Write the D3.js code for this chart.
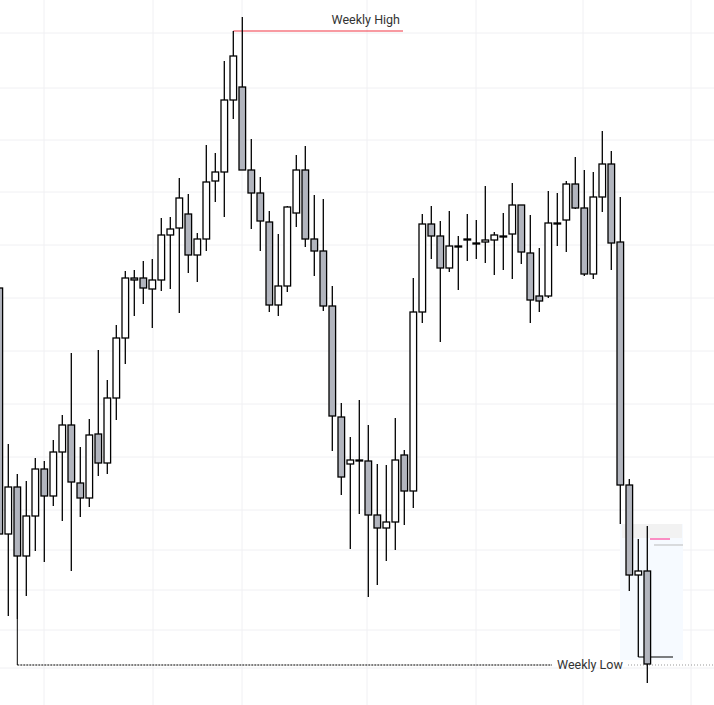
<!DOCTYPE html>
<html><head><meta charset="utf-8">
<script src="https://cdn.jsdelivr.net/npm/d3@7"></script>
<style>body{margin:0;background:#fff}svg{display:block}</style>
</head><body><div id="c"></div>
<script>
// price units (higher = up)
const open  = [412,166,213,144,184,231,204,248,275,217,202,266,237,302,362,422,422,411,420,465,472,486,445,461,519,528,600,613,530,507,478,395,414,487,530,461,449,394,283,236,240,239,185,172,178,245,209,388,476,464,432,454,461,457,458,460,464,466,495,447,404,404,476,480,516,492,426,503,536,458,215,125,129];
const high  = [412,256,226,219,242,239,260,285,347,253,281,350,320,375,429,430,439,441,482,483,522,506,467,555,547,639,669,683,561,523,489,466,494,545,554,505,501,414,297,263,300,275,236,235,282,250,422,486,494,479,489,464,486,480,514,468,487,517,493,485,452,509,507,519,543,530,528,569,549,503,221,161,174];
const low   = [166,84,81,104,149,138,194,179,129,183,193,224,226,280,336,384,396,372,409,411,387,427,418,449,498,483,581,530,471,449,388,384,408,473,453,424,389,249,205,151,186,103,115,139,150,175,192,377,441,358,428,410,439,441,437,425,430,421,436,377,388,402,454,448,491,424,421,488,430,176,109,43,17];
const close = [166,213,144,184,231,204,248,275,218,202,265,237,302,362,422,420,412,420,465,471,502,445,461,518,528,600,644,530,507,479,395,414,493,530,461,449,394,284,223,240,240,185,172,178,240,209,388,476,464,432,454,454,461,457,460,465,464,495,448,400,399,477,477,516,492,426,503,536,457,215,125,129,36];
const gridX = [44,153,242,367,476,583,691];
const gridPrice = [667,612,560,508,455,402,349,296,243,190,150,110,70,32];
const weeklyHigh = 669, weeklyLow = 35;

const W=714,H=705;
const svg=d3.select("#c").append("svg").attr("width",W).attr("height",H);
const x=d3.scaleLinear().domain([0,72]).range([-0.7,647.3]);
const y=d3.scaleLinear().domain([0,700]).range([700,0]);

svg.append("g").selectAll("line").data(gridX).join("line")
 .attr("x1",d=>d).attr("x2",d=>d).attr("y1",0).attr("y2",H).attr("stroke","#f0f0f3");
svg.append("g").selectAll("line").data(gridPrice).join("line")
 .attr("x1",0).attr("x2",W).attr("y1",d=>y(d)).attr("y2",d=>y(d)).attr("stroke","#f0f0f3");

svg.append("rect").attr("x",620).attr("y",524).attr("width",63).attr("height",136).attr("fill","#f6faff");
svg.append("rect").attr("x",622).attr("y",524).attr("width",60).attr("height",14).attr("fill","#f2f2f2");
svg.append("line").attr("x1",654).attr("x2",683).attr("y1",545).attr("y2",545).attr("stroke","#bbb");
svg.append("line").attr("x1",650).attr("x2",670).attr("y1",539).attr("y2",539).attr("stroke","#f28");

svg.append("line").attr("x1",x(26)).attr("x2",403).attr("y1",y(weeklyHigh)).attr("y2",y(weeklyHigh)).attr("stroke","#f23645").attr("stroke-width",1.2);
svg.append("text").attr("x",400).attr("y",y(weeklyHigh)-7).attr("text-anchor","end").attr("font-family","Roboto, sans-serif").attr("font-size",12.5).attr("fill","#333").text("Weekly High");
svg.append("line").attr("x1",x(2)).attr("x2",x(2)).attr("y1",y(low[2])).attr("y2",y(weeklyLow)).attr("stroke","#000");
svg.append("line").attr("x1",x(2)).attr("x2",552).attr("y1",y(weeklyLow)).attr("y2",y(weeklyLow)).attr("stroke","#000").attr("stroke-dasharray","2,1");
svg.append("line").attr("x1",628).attr("x2",W).attr("y1",y(weeklyLow)).attr("y2",y(weeklyLow)).attr("stroke","#999").attr("stroke-dasharray","1,2");
svg.append("text").attr("x",557).attr("y",y(weeklyLow)+4).attr("font-family","Roboto, sans-serif").attr("font-size",12.5).attr("fill","#333").text("Weekly Low");
svg.append("line").attr("x1",x(71)).attr("x2",673).attr("y1",y(43)).attr("y2",y(43)).attr("stroke","#000");

const idx=d3.range(open.length);
const g=svg.append("g");
g.selectAll("line").data(idx).join("line")
 .attr("x1",i=>x(i)).attr("x2",i=>x(i)).attr("y1",i=>y(high[i])).attr("y2",i=>y(low[i]))
 .attr("stroke","#000").attr("stroke-width",1.3);
g.selectAll("rect").data(idx).join("rect")
 .attr("x",i=>x(i)-3.3).attr("width",6.6)
 .attr("y",i=>y(Math.max(open[i],close[i])))
 .attr("height",i=>Math.max(1,Math.abs(open[i]-close[i])))
 .attr("fill",i=>close[i]<open[i]?"#b2b5be":"#fff")
 .attr("stroke","#000").attr("stroke-width",1.3);
</script></body></html>
